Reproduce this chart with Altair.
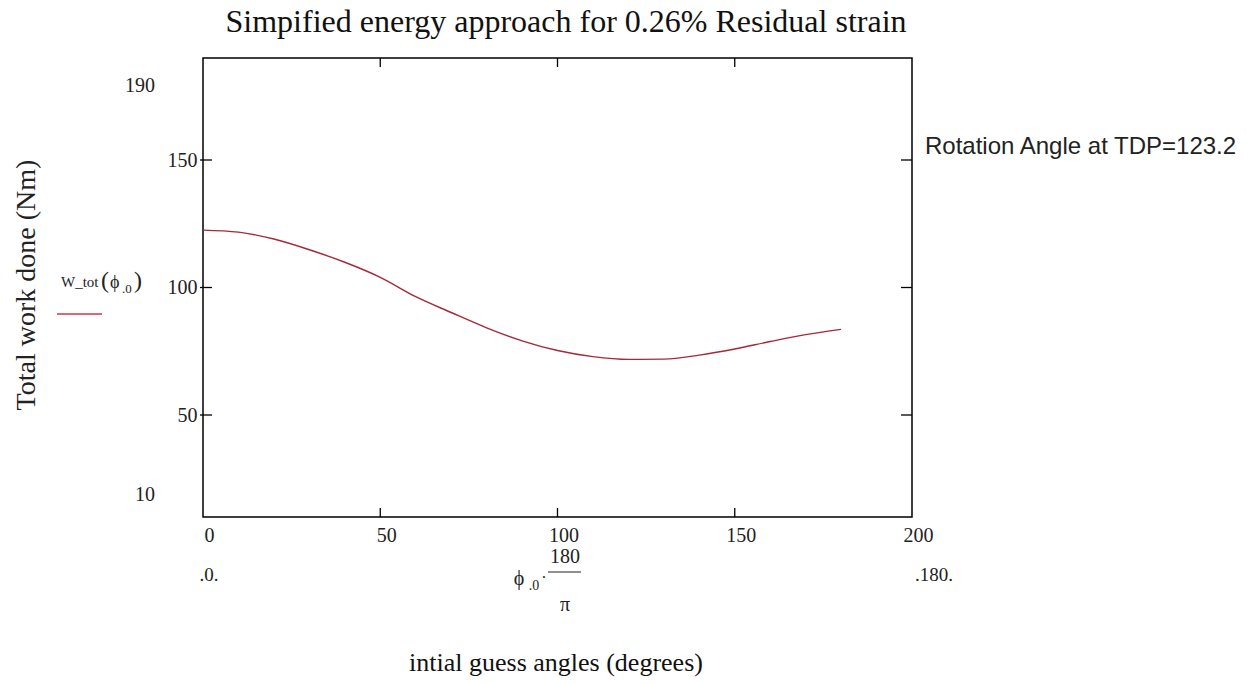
import altair as alt
import pandas as pd

# ---- data ----
angles = [0, 10, 20, 30, 40, 50, 60, 70, 80, 90, 100, 110, 120, 130, 140, 150, 160, 170, 180]
work = [122.5, 121.7, 119.0, 114.8, 109.9, 104.0, 96.4, 90.2, 84.2, 79.1, 75.3, 72.9, 71.8, 71.9,
        73.5, 75.9, 78.8, 81.5, 83.6]
x_tick_labels = [0, 50, 100, 150, 200]
y_tick_labels = [50, 100, 150]
inner_ticks_x = [50, 100, 150]
inner_ticks_y = [50, 100, 150]
y_limits = [10, 190]
x_limits = [0, 200]

title_text = "Simpified energy approach for 0.26% Residual strain"
note_text = "Rotation Angle at TDP=123.2"
y_title = "Total work done (Nm)"
x_title = "intial guess angles (degrees)"

W, H = 709, 459
SERIF = "Liberation Serif"
LINE_COLOR = "#a8283a"
TXT = "#222222"

df = pd.DataFrame({"angle": angles, "work": work})
xt = pd.DataFrame({"v": inner_ticks_x})
yt = pd.DataFrame({"v": inner_ticks_y})

xs = alt.Scale(domain=x_limits, nice=False, zero=False)
ys = alt.Scale(domain=y_limits, nice=False, zero=False)

line = alt.Chart(df).mark_line(color=LINE_COLOR, strokeWidth=1.4, interpolate="monotone").encode(
    x=alt.X("angle:Q", scale=xs,
            axis=alt.Axis(values=x_tick_labels, title=None, domain=False, grid=False, tickSize=0,
                          labelFont=SERIF, labelFontSize=20, labelColor=TXT, labelPadding=8,
                          labelOffset=6, labelFlush=False, labelOverlap=False)),
    y=alt.Y("work:Q", scale=ys,
            axis=alt.Axis(values=y_tick_labels, title=None, domain=False, grid=False, tickSize=0,
                          labelFont=SERIF, labelFontSize=20, labelColor=TXT, labelPadding=6,
                          labelOverlap=False, labelFlush=False)),
)

tick_b = alt.Chart(xt).mark_rule(color="black", strokeWidth=1.3).encode(
    x=alt.X("v:Q", scale=xs), y=alt.value(H), y2=alt.value(H - 9))
tick_t = alt.Chart(xt).mark_rule(color="black", strokeWidth=1.3).encode(
    x=alt.X("v:Q", scale=xs), y=alt.value(0), y2=alt.value(9))
tick_l = alt.Chart(yt).mark_rule(color="black", strokeWidth=1.3).encode(
    y=alt.Y("v:Q", scale=ys), x=alt.value(-3), x2=alt.value(9))
tick_r = alt.Chart(yt).mark_rule(color="black", strokeWidth=1.3).encode(
    y=alt.Y("v:Q", scale=ys), x=alt.value(W - 11), x2=alt.value(W))

def txt(text, x, y, size=18, font=SERIF, align="center", angle=0, color=TXT, baseline="middle"):
    kw = dict(text=text, font=font, fontSize=size, align=align, baseline=baseline, color=color)
    if angle:
        kw["angle"] = angle
    return alt.Chart().mark_text(**kw).encode(x=alt.value(x), y=alt.value(y))

ylim_top = alt.Chart().mark_text(text=str(y_limits[1]), font=SERIF, fontSize=20, align="right",
                                 baseline="middle", color=TXT, dy=28).encode(
    x=alt.value(-48), y=alt.datum(y_limits[1], scale=ys))
ylim_bot = alt.Chart().mark_text(text=str(y_limits[0]), font=SERIF, fontSize=20, align="right",
                                 baseline="middle", color=TXT, dy=-22).encode(
    x=alt.value(-48), y=alt.datum(y_limits[0], scale=ys))

texts = [
    txt(title_text, 363, -36, size=32, color="#111111"),
    txt(note_text, 722, 89, size=24, font="Liberation Sans", align="left"),
    txt(y_title, -176, 227, size=28, angle=270),
    txt(x_title, 353, 605, size=26, color="#111111"),
    # second row of x-axis annotations
    txt(".0.", 6, 517, size=19),
    txt(".180.", 731, 517, size=19),
    txt("\u03d5", 316, 521, size=20),
    txt(".0", 331, 528, size=14),
    txt("\u00b7", 341, 520, size=16),
    txt("180", 362, 499, size=20),
    txt("\u03c0", 362, 547, size=20),
    # legend
    txt("W_tot", -142, 224, size=15, align="left"),
    txt("(", -102, 223, size=24, align="left"),
    txt("\u03d5", -93, 225, size=18, align="left"),
    txt(".0", -81, 231, size=13, align="left"),
    txt(")", -69, 223, size=24, align="left"),
]

frac_bar = alt.Chart().mark_rule(color=TXT, strokeWidth=1.2).encode(
    x=alt.value(345), x2=alt.value(378), y=alt.value(514))
legend_line = alt.Chart().mark_rule(color="#c8384a", strokeWidth=1.6).encode(
    x=alt.value(-146), x2=alt.value(-101), y=alt.value(256))

chart = alt.layer(line, tick_b, tick_t, tick_l, tick_r, ylim_top, ylim_bot, frac_bar, legend_line,
                  *texts).properties(
    width=W, height=H,
    autosize=alt.AutoSizeParams(type="none"),
    padding={"left": 203, "top": 58, "right": 334, "bottom": 167},
    background="white",
).configure_view(stroke="black", strokeWidth=1.5)

chart.save("out.html", embed_options={"renderer": "svg", "actions": False})
